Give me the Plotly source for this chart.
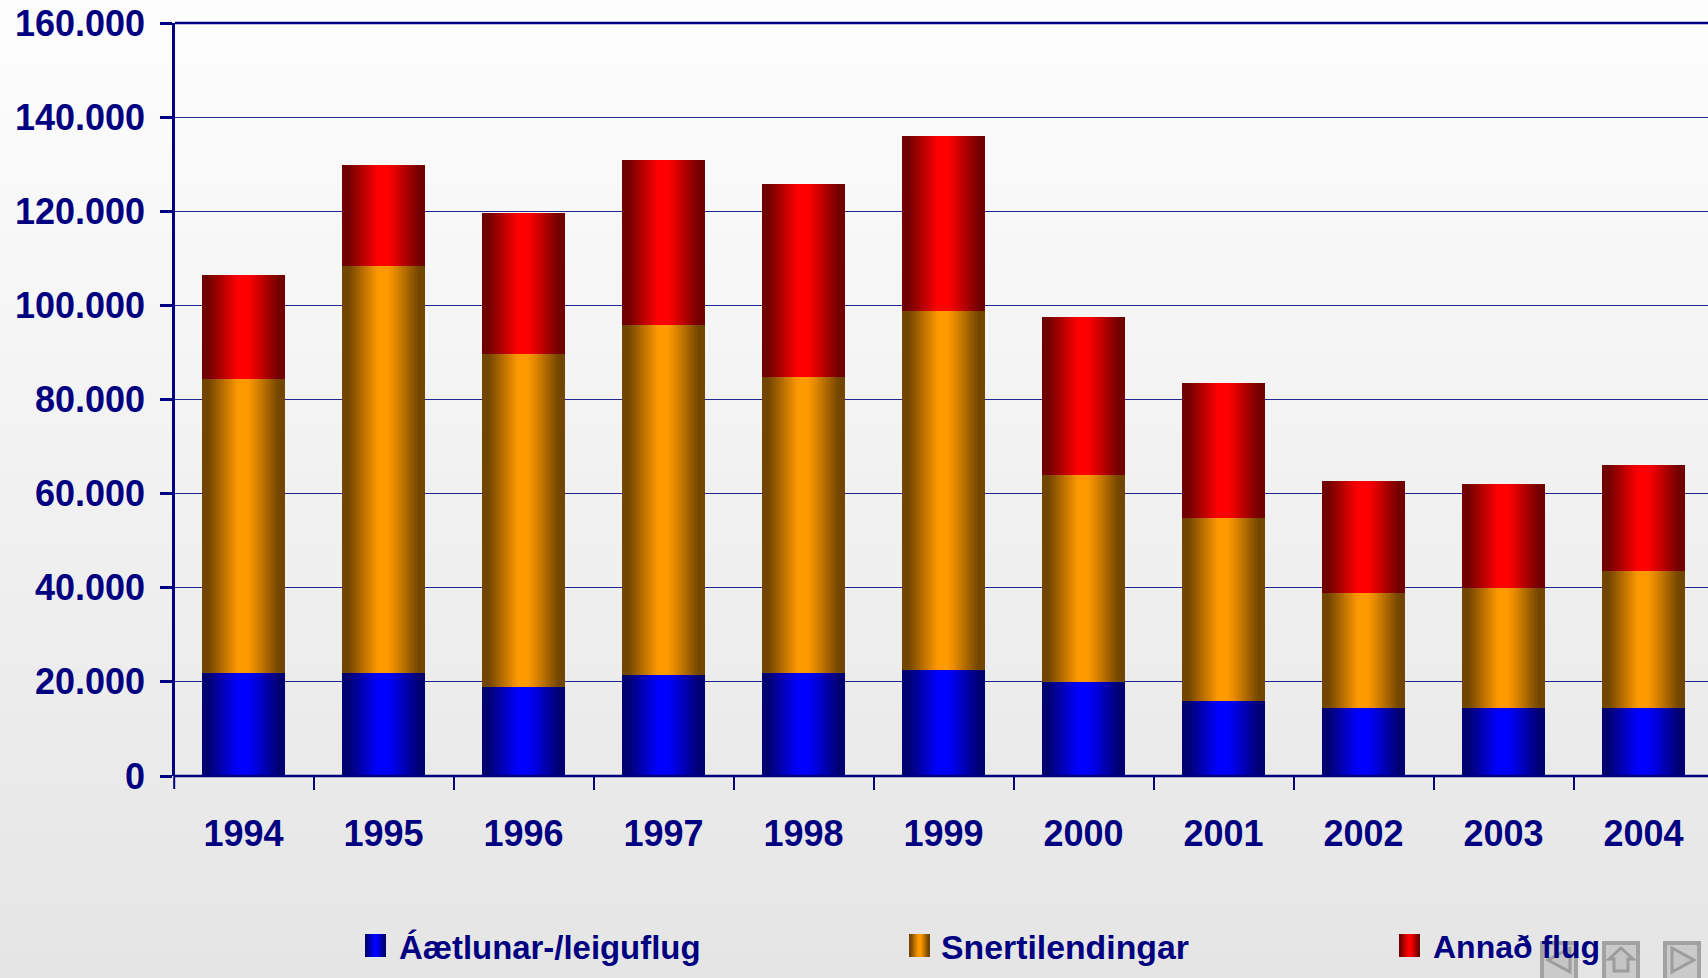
import plotly.graph_objects as go

years = ["1994","1995","1996","1997","1998","1999","2000","2001","2002","2003","2004"]
aaetlun = [21900,21900,18900,21400,21900,22600,20000,16000,14400,14400,14400]
snerti = [62450,86500,70800,74400,62900,76100,44000,38800,24500,25500,29100]
annad = [22050,21500,30000,35100,41000,37200,33500,28800,23700,22100,22500]
y_ticks = [0,20000,40000,60000,80000,100000,120000,140000,160000]
y_labels = ["0","20.000","40.000","60.000","80.000","100.000","120.000","140.000","160.000"]
series = [
    ("Áætlunar-/leiguflug", aaetlun, (0,0,255), (0,0,115)),
    ("Snertilendingar", snerti, (255,153,0), (115,70,0)),
    ("Annað flug", annad, (255,0,0), (115,0,0)),
]
NAVY = "#000080"
W, H = 1708, 978
L, T, B = 175, 23, 776
CAT = 140
N = 41
BAR = 0.588

def px(x): return (x - L) / (W - L)
def py(y): return 1 - (y - T) / (B - T)
def mix(c, e, t):
    return "rgb(%d,%d,%d)" % tuple(round(a + (b - a) * t) for a, b in zip(c, e))
def edge_t(u):
    return max(0.0, min(1.0, (abs(2 * u - 1) - 0.12) / 0.72))

fig = go.Figure()
xs = list(range(len(years)))
for name, vals, c, e in series:
    for k in range(N):
        u = (k + 0.5) / N
        fig.add_trace(go.Bar(
            x=[i + (u - 0.5) * BAR for i in xs], y=vals, width=BAR / N + 0.0005,
            marker=dict(color=mix(c, e, edge_t(u)), line=dict(width=0)),
            showlegend=False, name=name, hoverinfo="skip"))

shapes = []
# page background gradient
BANDS = 98
for i in range(BANDS):
    t = i / (BANDS - 1)
    v = round(253 - (253 - 229) * t)
    shapes.append(dict(type="rect", xref="paper", yref="paper", layer="below",
                       x0=px(0), x1=px(W), y0=py(H * i / BANDS), y1=py(H * (i + 1) / BANDS + 1),
                       fillcolor=f"rgb({v},{v},{v})", line=dict(width=0)))

# horizontal axis lines at 0 and at the top, first tick
for yy, lw in [(0, 2.5), (1, 2.5)]:
    shapes.append(dict(type="line", xref="paper", yref="paper", layer="above",
                       x0=0, x1=1, y0=yy, y1=yy, line=dict(color=NAVY, width=lw)))
shapes.append(dict(type="line", xref="paper", yref="paper", layer="above",
                   x0=px(174.2), x1=px(174.2), y0=py(776), y1=py(789), line=dict(color=NAVY, width=2)))

annotations = []
legend_pos = [(365, 397, 32.9), (909, 939, 33.8), (1399, 1431, 32.0)]
for (name, vals, c, e), (sx, tx, fs) in zip(series, legend_pos):
    S = 21
    for k in range(S):
        u = (k + 0.5) / S
        shapes.append(dict(type="rect", xref="paper", yref="paper", layer="above",
                           x0=px(sx + k), x1=px(sx + k + 1), y0=py(934), y1=py(957),
                           fillcolor=mix(c, e, edge_t(u)), line=dict(width=0)))

# navigation buttons (page furniture)
for x0, kind in [(1540, "prev"), (1602, "home"), (1663, "next")]:
    x1 = x0 + 38
    shapes.append(dict(type="rect", xref="paper", yref="paper", layer="above",
                       x0=px(x0 + 2), x1=px(x1 - 2), y0=py(943), y1=py(H + 3),
                       fillcolor="#cacaca", line=dict(color="#a2a2a2", width=4)))
    if kind == "prev":
        tri = f"M {px(x1-8)} {py(948)} L {px(x0+8)} {py(960)} L {px(x1-8)} {py(972)} Z"
    elif kind == "next":
        tri = f"M {px(x0+9)} {py(948)} L {px(x1-7)} {py(960)} L {px(x0+9)} {py(972)} Z"
    else:
        tri = (f"M {px(x0+7)} {py(959)} L {px(x0+19)} {py(948)} L {px(x1-7)} {py(959)} "
               f"L {px(x1-12)} {py(959)} L {px(x1-12)} {py(971)} L {px(x0+12)} {py(971)} L {px(x0+12)} {py(959)} Z")
    shapes.append(dict(type="path", xref="paper", yref="paper", layer="above", path=tri,
                       fillcolor="#c4c4c4", line=dict(color="#9c9c9c", width=3)))

for (name, vals, c, e), (sx, tx, fs) in zip(series, legend_pos):
    annotations.append(dict(text=f"<b>{name}</b>", xref="paper", yref="paper", showarrow=False,
                            x=px(tx), y=py(947), xanchor="left", yanchor="middle",
                            font=dict(family="Liberation Sans", size=fs, color=NAVY)))

fig.update_layout(
    width=W, height=H, autosize=False, barmode="stack", bargap=0,
    margin=dict(l=L, r=0, t=T, b=H - B, pad=0),
    paper_bgcolor="#e5e5e5", plot_bgcolor="rgba(0,0,0,0)",
    shapes=shapes, annotations=annotations, showlegend=False,
    font=dict(family="Liberation Sans", color=NAVY),
    xaxis=dict(range=[-0.5 + 1.5 / CAT, -0.5 + 1.5 / CAT + (W - L) / CAT], showgrid=False, zeroline=False,
               tickvals=xs, ticktext=years, ticks="", ticklen=0, ticklabelstandoff=33,
               tickfont=dict(size=36, family="Liberation Sans", weight="bold", color=NAVY),
               showline=False,
               minor=dict(tickvals=[i - 0.5 for i in range(12)], ticks="outside", ticklen=13,
                          tickwidth=2, tickcolor=NAVY, showgrid=False)),
    yaxis=dict(range=[0, 160000], tickvals=y_ticks, ticktext=y_labels, ticks="outside", ticklen=12,
               tickwidth=2.5, tickcolor=NAVY, showgrid=True, gridcolor="rgba(0,0,128,0.85)", gridwidth=1,
               zeroline=False, showline=True, linecolor=NAVY, linewidth=2.5, ticklabelstandoff=8,
               tickfont=dict(size=36, family="Liberation Sans", weight="bold", color=NAVY)),
)
fig.write_html("out.html", config=dict(displayModeBar=False),
               post_script="document.body.style.margin='0';document.body.style.overflow='hidden';")
